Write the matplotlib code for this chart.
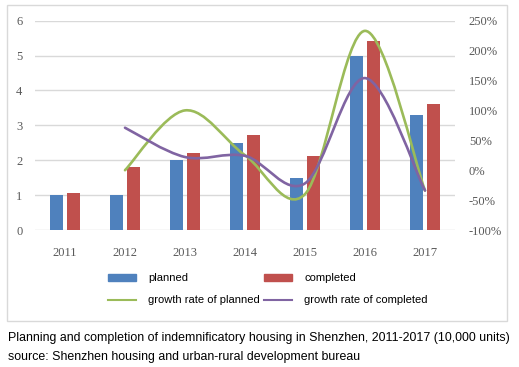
import matplotlib
matplotlib.use("Agg")
import matplotlib.pyplot as plt
from matplotlib.path import Path
from matplotlib.patches import PathPatch, Rectangle, Patch
from matplotlib.lines import Line2D
from matplotlib.ticker import FuncFormatter

# data
years = ['2011', '2012', '2013', '2014', '2015', '2016', '2017']
planned = [1.0, 1.0, 2.0, 2.5, 1.5, 5.0, 3.3]
completed = [1.05, 1.8, 2.2, 2.73, 2.13, 5.42, 3.6]
growth_planned = [0.0, 1.0, 0.25, -0.40, 2.33, -0.34]      # from 2012
growth_completed = [0.71, 0.22, 0.24, -0.22, 1.54, -0.34]  # from 2012

c_blue = '#4F81BD'
c_red = '#C0504D'
c_green = '#9BBB59'
c_purple = '#8064A2'
c_tick = '#595959'


def smooth_path(xs, ys):
    # Bezier curve through the points (Catmull-Rom style, like Excel smoothing)
    pts = list(zip(xs, ys))
    n = len(pts)
    verts = [pts[0]]
    codes = [Path.MOVETO]
    for i in range(n - 1):
        p0 = pts[max(i - 1, 0)]
        p1 = pts[i]
        p2 = pts[i + 1]
        p3 = pts[min(i + 2, n - 1)]
        c1 = (p1[0] + (p2[0] - p0[0]) / 6, p1[1] + (p2[1] - p0[1]) / 6)
        c2 = (p2[0] - (p3[0] - p1[0]) / 6, p2[1] - (p3[1] - p1[1]) / 6)
        verts += [c1, c2, p2]
        codes += [Path.CURVE4] * 3
    return Path(verts, codes)


fig = plt.figure(figsize=(5.19, 3.67), dpi=100)
ax = fig.add_axes([35 / 519, 1 - 230 / 367, 420 / 519, 209.3 / 367])

x = list(range(len(years)))
w = 0.22
ax.bar([i - 0.142 for i in x], planned, w, color=c_blue, zorder=3)
ax.bar([i + 0.142 for i in x], completed, w, color=c_red, zorder=3)

ax.set_xlim(-0.5, 6.5)
ax.set_ylim(0, 6)
ax.set_yticks(range(7))
ax.set_xticks(x)
ax.set_xticklabels(years)
ax.grid(axis='y', color='#D9D9D9', lw=1, zorder=0)
for s in ax.spines.values():
    s.set_visible(False)
ax.tick_params(axis='y', length=0, pad=9, labelcolor=c_tick, labelsize=9)
ax.tick_params(axis='x', length=0, pad=12, labelcolor=c_tick, labelsize=9)
for lab in ax.get_xticklabels() + ax.get_yticklabels():
    lab.set_family('Liberation Serif')

ax2 = ax.twinx()
ax2.set_ylim(-1.0, 2.5)
ax2.set_yticks([-1.0, -0.5, 0, 0.5, 1.0, 1.5, 2.0, 2.5])
ax2.yaxis.set_major_formatter(FuncFormatter(lambda v, p: f'{v * 100:.0f}%'))
for s in ax2.spines.values():
    s.set_visible(False)
ax2.tick_params(axis='y', length=0, pad=10, labelcolor=c_tick, labelsize=9)
for lab in ax2.get_yticklabels():
    lab.set_family('Liberation Serif')

ax2.add_patch(PathPatch(smooth_path(x[1:], growth_planned), fill=False,
                        edgecolor=c_green, lw=1.9, capstyle='round'))
ax2.add_patch(PathPatch(smooth_path(x[1:], growth_completed), fill=False,
                        edgecolor=c_purple, lw=1.9, capstyle='round'))

# legend (column-major order so rows read: bars, then lines)
handles = [Patch(color=c_blue), Line2D([], [], color=c_green, lw=1.5),
           Patch(color=c_red), Line2D([], [], color=c_purple, lw=1.5)]
labels = ['planned', 'growth rate of planned', 'completed', 'growth rate of completed']
fig.legend(handles, labels, ncol=2, loc='upper left', bbox_to_anchor=(98 / 519, 1 - 263 / 367),
           frameon=False, prop={'family': 'Liberation Sans', 'size': 8},
           handlelength=2.5, handleheight=0.6, handletextpad=1.1, columnspacing=0.4,
           labelspacing=1.1)

# outer chart box
fig.patches.append(Rectangle((7 / 519, 1 - 321 / 367), 500 / 519, 316 / 367,
                             transform=fig.transFigure, fill=False, edgecolor='#D9D9D9', lw=1))

fig.text(8 / 519, 1 - 338 / 367,
         'Planning and completion of indemnificatory housing in Shenzhen, 2011-2017 (10,000 units)',
         family='Liberation Sans', size=8.9, va='center', ha='left')
fig.text(8 / 519, 1 - 357 / 367,
         'source: Shenzhen housing and urban-rural development bureau',
         family='Liberation Sans', size=8.9, va='center', ha='left')

fig.savefig('out.png', dpi=100)
